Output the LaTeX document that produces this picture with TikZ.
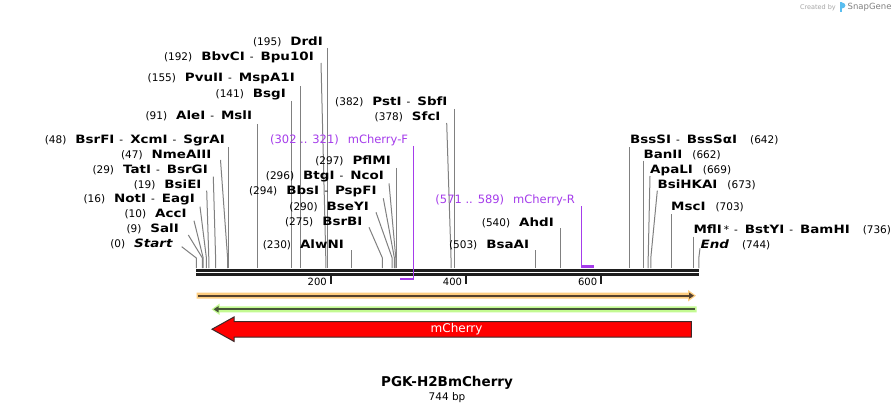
\documentclass[tikz,border=0pt]{standalone}
\usepackage{fontspec}
\setmainfont{DejaVu Sans}
\newfontfamily\enzf[FakeStretch=1.17]{DejaVu Sans}
\usetikzlibrary{arrows.meta}
\definecolor{cutgray}{RGB}{128,128,128}
\definecolor{primer}{RGB}{165,60,235}
\definecolor{bbcol}{RGB}{30,30,30}
\definecolor{orangeF}{RGB}{253,205,128}
\definecolor{orangeL}{RGB}{85,65,45}
\definecolor{greenF}{RGB}{195,250,145}
\definecolor{greenL}{RGB}{70,85,55}
\definecolor{redB}{RGB}{60,40,40}
\definecolor{logoblue}{RGB}{90,190,240}
\newcommand{\N}[1]{{\fontsize{10.5}{12}\selectfont #1}}
\newcommand{\E}[1]{{\enzf\bfseries\fontsize{11.5}{13}\selectfont #1}}
\newcommand{\EI}[1]{{\enzf\bfseries\itshape\fontsize{11.5}{13}\selectfont #1}}
\newcommand{\Sp}{\hspace{5pt}\N{-}\hspace{7pt}}
\newcommand{\G}{\hspace{9pt}}
\newcommand{\cutline}[4]{\coordinate (k#1) at (#2,#3); \coordinate (m#1) at (#4,258); \coordinate (b#1) at (#4,268); \draw[cut] (k#1) -- (m#1) -- (b#1);}
\tikzset{
  cut/.style={draw=cutgray, line width=1pt},
  lbl/.style={inner sep=0pt, text=black},
  plbl/.style={inner sep=0pt, text=primer, font=\fontsize{11.5}{13}\selectfont},
  pline/.style={draw=primer, line width=1.2pt},
  pbar/.style={draw=primer, line width=2.5pt},
  bb/.style={draw=bbcol},
  tickmark/.style={draw=bbcol, line width=1.8pt},
  ticklbl/.style={inner sep=0pt, anchor=east, font=\fontsize{10}{12}\selectfont},
}
\begin{document}
\begin{tikzpicture}[x=1pt,y=-1pt]
\fill[white] (0,0) rectangle (896,414);
\useasboundingbox (0,0) rectangle (896,414);

% credit
\node[inner sep=0pt, anchor=east, text=black!35, font=\fontsize{6.5}{7}\selectfont] (cr) at (836,7.5) {Created by};
\fill[logoblue] (839.5,2.5) rectangle (842,12) ;
\fill[logoblue] (842,2.5) .. controls (846.5,3) and (846.5,8) .. (842,8.5) -- cycle;
\node[inner sep=0pt, anchor=west, text=black!50, font=\fontsize{8.5}{10}\selectfont] (sg) at (847.5,7.5) {SnapGene};

% backbone
\draw[bb, line width=3.3pt] (196,270.3) -- (699,270.3);
\draw[bb, line width=3pt] (196,274.6) -- (699,274.6);

% ticks
\draw[tickmark] (330.8,276) -- (330.8,284);
\draw[tickmark] (466,276) -- (466,284);
\draw[tickmark] (601.2,276) -- (601.2,284);
\node[ticklbl] (t200) at (327,282) {200};
\node[ticklbl] (t400) at (462.2,282) {400};
\node[ticklbl] (t600) at (597.4,282) {600};

% left cluster
\node[lbl, anchor=east] (L195) at (323,42) {\N{(195)}\G\E{DrdI}};
\cutline{195}{327.8}{48}{327.8}
\node[lbl, anchor=east] (L192) at (314,57) {\N{(192)}\G\E{BbvCI}\Sp\E{Bpu10I}};
\cutline{192}{321}{63}{325.8}
\node[lbl, anchor=east] (L155) at (295,79) {\N{(155)}\G\E{PvuII}\Sp\E{MspA1I}};
\cutline{155}{300.8}{86.5}{300.8}
\node[lbl, anchor=east] (L141) at (286,95) {\N{(141)}\G\E{BsgI}};
\cutline{141}{291.3}{101}{291.3}
\node[lbl, anchor=east] (L91) at (252.3,116) {\N{(91)}\G\E{AleI}\Sp\E{MslI}};
\cutline{91}{257.5}{124}{257.5}
\node[lbl, anchor=east] (L48) at (225,140) {\N{(48)}\G\E{BsrFI}\Sp\E{XcmI}\Sp\E{SgrAI}};
\cutline{48}{228.6}{147}{228.6}
\node[lbl, anchor=east] (L47) at (211.7,155) {\N{(47)}\G\E{NmeAIII}};
\cutline{47}{220.5}{160}{227.6}
\node[lbl, anchor=east] (L29) at (208,170) {\N{(29)}\G\E{TatI}\Sp\E{BsrGI}};
\cutline{29}{213.3}{176.7}{215.6}
\node[lbl, anchor=east] (L19) at (201.7,184.5) {\N{(19)}\G\E{BsiEI}};
\cutline{19}{206.7}{190.7}{208.8}
\node[lbl, anchor=east] (L16) at (195,199.5) {\N{(16)}\G\E{NotI}\Sp\E{EagI}};
\cutline{16}{200}{206.7}{206.4}
\node[lbl, anchor=east] (L10) at (186.7,214) {\N{(10)}\G\E{AccI}};
\cutline{10}{194}{220.7}{203.2}
\node[lbl, anchor=east] (L9) at (179,229) {\N{(9)}\G\E{SalI}};
\cutline{9}{188.3}{235}{202.4}
\node[lbl, anchor=east] (L0) at (172.7,244) {\N{(0)}\G\EI{Start}};
\cutline{0}{181.7}{246.7}{196.3}

% middle cluster
\node[lbl, anchor=east] (L230) at (344,245) {\N{(230)}\G\E{AlwNI}};
\cutline{230}{351.3}{250}{351.3}
\node[lbl, anchor=east] (L275) at (362.7,222) {\N{(275)}\G\E{BsrBI}};
\cutline{275}{369}{227.3}{382.4}
\node[lbl, anchor=east] (L290) at (369,207) {\N{(290)}\G\E{BseYI}};
\cutline{290}{376}{212.3}{392.2}
\node[lbl, anchor=east] (L294) at (376.7,191.5) {\N{(294)}\G\E{BbsI}\Sp\E{PspFI}};
\cutline{294}{383.3}{198.3}{394.4}
\node[lbl, anchor=east] (L296) at (384,176.5) {\N{(296)}\G\E{BtgI}\Sp\E{NcoI}};
\cutline{296}{389}{183.3}{395.8}
\node[lbl, anchor=east] (L297) at (391,161) {\N{(297)}\G\E{PflMI}};
\cutline{297}{396.8}{168}{396.8}
\node[lbl, anchor=east] (L378) at (440.7,117) {\N{(378)}\G\E{SfcI}};
\cutline{378}{446.7}{123}{451}
\node[lbl, anchor=east] (L382) at (447.7,101.5) {\N{(382)}\G\E{PstI}\Sp\E{SbfI}};
\cutline{382}{454.2}{109}{454.2}
\node[lbl, anchor=east] (L503) at (529.3,245) {\N{(503)}\G\E{BsaAI}};
\cutline{503}{535.8}{250}{535.8}
\node[lbl, anchor=east] (L540) at (554,222.5) {\N{(540)}\G\E{AhdI}};
\cutline{540}{560.5}{228.3}{560.5}

% primers
\node[plbl, anchor=east] (PF) at (408.3,140) {(302 .. 321)\hspace{9pt}mCherry-F};
\coordinate (pf1) at (413.3,146);
\coordinate (pf2) at (413.3,279);
\coordinate (pf3) at (400.2,279);
\draw[pline] (pf1) -- (pf2);
\draw[pbar] (pf3) -- ([xshift=0.6pt]pf2);
\node[plbl, anchor=east] (PR) at (575,200) {(571 .. 589)\hspace{9pt}mCherry-R};
\coordinate (pr1) at (581.8,206);
\coordinate (pr2) at (581.8,266.3);
\coordinate (pr3) at (593.6,266.3);
\draw[pline] (pr1) -- (pr2);
\draw[pbar] ([xshift=-0.6pt]pr2) -- (pr3);

% right cluster
\node[lbl, anchor=west] (R642) at (630,140) {\E{BssSI}\Sp\E{BssSαI}\hspace{13pt}\N{(642)}};
\cutline{642}{629.5}{147.3}{629.5}
\node[lbl, anchor=west] (R662) at (643.3,155.5) {\E{BanII}\hspace{10pt}\N{(662)}};
\cutline{662}{643.5}{160.7}{643.5}
\node[lbl, anchor=west] (R669) at (650,170.5) {\E{ApaLI}\hspace{10pt}\N{(669)}};
\cutline{669}{650}{176}{648.2}
\node[lbl, anchor=west] (R673) at (657.3,185) {\E{BsiHKAI}\hspace{10pt}\N{(673)}};
\cutline{673}{657.3}{190.7}{650.8}
\node[lbl, anchor=west] (R703) at (671,207.5) {\E{MscI}\hspace{10pt}\N{(703)}};
\cutline{703}{671}{214}{671}
\node[lbl, anchor=west] (R736) at (693.3,229.5) {\E{MflI}\hspace{2pt}\N{*}\Sp\E{BstYI}\Sp\E{BamHI}\hspace{13pt}\N{(736)}};
\cutline{736}{693.5}{236.7}{693.5}
\node[lbl, anchor=west] (R744) at (700.5,245) {\EI{End}\hspace{13pt}\N{(744)}};
\cutline{744}{700}{248.3}{698.8}

% features
\fill[orangeF] (196.7,292.7) -- (688,292.7) -- (688,289.9) -- (695.9,295.7) -- (688,301.5) -- (688,298.7) -- (196.7,298.7) -- cycle;
\coordinate (o1) at (198,295.7);
\coordinate (o2) at (694,295.7);
\draw[orangeL, line width=2pt, -{Triangle[length=5pt,width=6pt]}] (o1) -- (o2);

\fill[greenF] (211.5,309.3) -- (219.5,303.7) -- (219.5,306.3) -- (696.7,306.3) -- (696.7,312.3) -- (219.5,312.3) -- (219.5,314.9) -- cycle;
\coordinate (g1) at (694.5,309.3);
\coordinate (g2) at (213.5,309.3);
\draw[greenL, line width=2pt, -{Triangle[length=5pt,width=6pt]}] (g1) -- (g2);

\draw[fill=red, draw=redB, line width=1pt] (212,329.2) -- (234,317) -- (234,321.5) -- (691.3,321.5) -- (691.3,337) -- (234,337) -- (234,341.4) -- cycle;
\node[inner sep=0pt, text=white, font=\fontsize{12}{14}\selectfont] (mch) at (456.6,329.2) {mCherry};

% title
\node[inner sep=0pt, font=\bfseries\fontsize{13.5}{16}\selectfont] (title) at (447,383) {PGK-H2BmCherry};
\node[inner sep=0pt, font=\fontsize{10.5}{12}\selectfont] (len) at (447,398) {744 bp};
\end{tikzpicture}
\end{document}
